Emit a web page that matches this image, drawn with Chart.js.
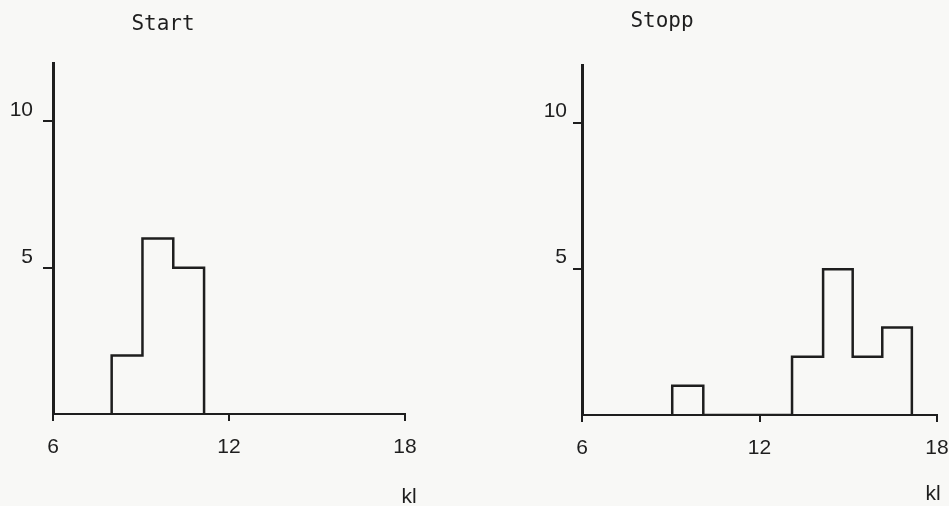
<!DOCTYPE html>
<html>
<head>
<meta charset="utf-8">
<script src="https://cdn.jsdelivr.net/npm/chart.js@4.4.1/dist/chart.umd.min.js"></script>
<style>
  html, body { margin: 0; padding: 0; background: #f8f8f6; }
  #wrap { position: relative; width: 949px; height: 506px; overflow: hidden; }
  canvas { position: absolute; top: 0; }
  #cStart { left: 0; }
  #cStopp { left: 474px; }
</style>
</head>
<body>
<div id="wrap">
  <canvas id="cStart" width="474" height="506"></canvas>
  <canvas id="cStopp" width="490" height="506"></canvas>
</div>
<script>
// Histogram of times (kl), two panels: Start and Stopp
const xTicks = [6, 12, 18];
const yTicks = [5, 10];

const startLo = [8.0, 9.05, 10.1];
const startHi = [9.05, 10.1, 11.15];
const startCounts = [2, 6, 5];

const stoppLo = [9.05, 13.1, 14.15, 15.15, 16.15];
const stoppHi = [10.1, 14.15, 15.15, 16.15, 17.15];
const stoppCounts = [1, 2, 5, 2, 3];

const INK = '#1e1e1e';

// Turn bins into the outline of a step histogram
function outline(lo, hi, counts) {
  const pts = [];
  for (let i = 0; i < counts.length; i++) {
    if (i === 0 || lo[i] !== hi[i - 1]) {
      if (i > 0) pts.push({ x: hi[i - 1], y: 0 });
      pts.push({ x: lo[i], y: 0 });
    }
    pts.push({ x: lo[i], y: counts[i] });
    pts.push({ x: hi[i], y: counts[i] });
  }
  pts.push({ x: hi[hi.length - 1], y: 0 });
  return pts;
}

// Free text (panel title and axis unit)
const freeText = {
  id: 'freeText',
  afterDraw(chart, args, opts) {
    const ctx = chart.ctx;
    ctx.save();
    ctx.fillStyle = INK;
    ctx.textAlign = 'center';
    ctx.textBaseline = 'middle';
    (opts.items || []).forEach(it => {
      ctx.font = it.font;
      ctx.fillText(it.text, it.x, it.y);
    });
    ctx.restore();
  }
};

function makeChart(id, lo, hi, counts, cfg) {
  return new Chart(document.getElementById(id), {
    type: 'line',
    data: {
      datasets: [{
        data: outline(lo, hi, counts),
        borderColor: INK,
        borderWidth: 2.5,
        pointRadius: 0,
        tension: 0,
        borderJoinStyle: 'miter',
        fill: false
      }]
    },
    options: {
      responsive: false,
      animation: false,
      layout: { padding: { left: 0, top: cfg.top, right: cfg.right, bottom: 0 } },
      plugins: {
        legend: { display: false },
        tooltip: { enabled: false },
        freeText: { items: cfg.texts }
      },
      scales: {
        x: {
          type: 'linear',
          min: 6, max: 18,
          afterBuildTicks: a => { a.ticks = xTicks.map(v => ({ value: v })); },
          afterFit: a => { a.height = cfg.xHeight; },
          border: { display: true, color: INK, width: 2 },
          grid: { drawOnChartArea: false, drawTicks: true, tickLength: 7, color: INK, lineWidth: 2 },
          ticks: {
            color: INK, padding: 14, maxRotation: 0,
            font: { family: 'Liberation Sans', size: 21 },
            callback: v => String(v)
          }
        },
        y: {
          type: 'linear',
          min: 0, max: 12,
          afterBuildTicks: a => { a.ticks = yTicks.map(v => ({ value: v })); },
          afterFit: a => { a.width = cfg.yWidth; },
          border: { display: true, color: INK, width: 3 },
          grid: { drawOnChartArea: false, drawTicks: true, tickLength: cfg.yTick, color: INK, lineWidth: 2 },
          ticks: {
            color: INK, padding: cfg.yPad, labelOffset: cfg.yLabelOffset,
            font: { family: 'Liberation Sans', size: 21 },
            callback: v => String(v)
          }
        }
      }
    },
    plugins: [freeText]
  });
}

makeChart('cStart', startLo, startHi, startCounts, {
  top: 63, right: 69, xHeight: 92, yWidth: 53, yTick: 10, yPad: 10, yLabelOffset: -11,
  texts: [
    { text: 'Start', x: 163, y: 25, font: '21px "DejaVu Sans Mono"' },
    { text: 'kl', x: 409, y: 497, font: '21px "Liberation Sans"' }
  ]
});

makeChart('cStopp', stoppLo, stoppHi, stoppCounts, {
  top: 65, right: 27, xHeight: 91, yWidth: 108, yTick: 9, yPad: 6, yLabelOffset: -12,
  texts: [
    { text: 'Stopp', x: 188, y: 22, font: '21px "DejaVu Sans Mono"' },
    { text: 'kl', x: 459, y: 494, font: '21px "Liberation Sans"' }
  ]
});
</script>
</body>
</html>
